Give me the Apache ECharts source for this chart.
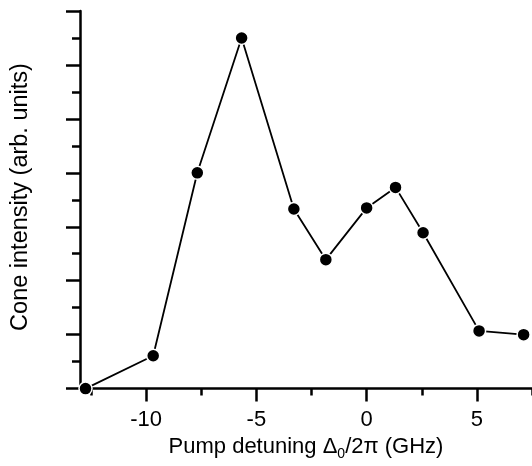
<!DOCTYPE html>
<html>
<head>
<meta charset="utf-8">
<script src="https://cdn.jsdelivr.net/npm/echarts@6/dist/echarts.min.js"></script>
<style>
  html, body { margin: 0; padding: 0; background: #fff; }
  #chart { width: 532px; height: 466px; }
</style>
</head>
<body>
<div id="chart"></div>
<script>
// Pump detuning (GHz) and measured cone intensity (arb. units)
var detuning = [-12.75, -9.68, -7.68, -5.67, -3.30, -1.85, 0.0, 1.31, 2.56, 5.10, 7.12];
var intensity = [0.0, 0.61, 4.0, 6.5, 3.33, 2.39, 3.35, 3.73, 2.89, 1.07, 1.0];

// Axis tick positions
var xMajorTicks = [-10, -5, 0, 5];
var xMinorTicks = [-12.5, -7.5, -2.5, 2.5, 7.5];

var FONT = 'Liberation Sans, Arial, sans-serif';
var chart = echarts.init(document.getElementById('chart'), null, { renderer: 'canvas' });

var points = detuning.map(function (x, i) { return [x, intensity[i]]; });

chart.setOption({
  animation: false,
  backgroundColor: '#ffffff',
  grid: { left: 80, right: 0, top: 11, bottom: 77, containLabel: false },
  xAxis: [
    {
      type: 'value',
      min: -13, max: 7.5,
      splitLine: { show: false },
      axisLine: { show: true, onZero: false, lineStyle: { color: '#000', width: 2.5 } },
      axisTick: { show: true, customValues: xMajorTicks, length: 13, lineStyle: { color: '#000', width: 2.5 } },
      axisLabel: { customValues: xMajorTicks, color: '#000', fontFamily: FONT, fontSize: 22, margin: 20 },
      name: '{a|Pump detuning Δ}{sub|0}{a|/2π (GHz)}',
      nameLocation: 'middle',
      nameGap: 41,
      nameTextStyle: {
        rich: {
          a: { color: '#000', fontFamily: FONT, fontSize: 22 },
          sub: { color: '#000', fontFamily: FONT, fontSize: 14, padding: [15, 0, 0, 0] }
        }
      }
    },
    {
      type: 'value',
      min: -13, max: 7.5,
      position: 'bottom',
      splitLine: { show: false },
      axisLine: { show: false },
      axisTick: { show: true, customValues: xMinorTicks, length: 7, lineStyle: { color: '#000', width: 2.5 } },
      axisLabel: { show: false }
    }
  ],
  yAxis: {
    type: 'value',
    min: 0, max: 7, interval: 1,
    splitLine: { show: false },
    axisLine: { show: true, onZero: false, lineStyle: { color: '#000', width: 2.5 } },
    axisTick: { show: true, length: 14, lineStyle: { color: '#000', width: 2.5 } },
    minorTick: { show: true, splitNumber: 2, length: 8, lineStyle: { color: '#000', width: 2.5 } },
    axisLabel: { show: false }
  },
  graphic: [
    {
      type: 'text',
      x: 21, y: 197,
      rotation: Math.PI / 2,
      style: {
        text: 'Cone intensity (arb. units)',
        fill: '#000',
        font: '23.5px ' + FONT,
        textAlign: 'center',
        textVerticalAlign: 'middle'
      }
    }
  ],
  series: [
    {
      type: 'line',
      data: points,
      clip: false,
      symbol: 'circle',
      symbolSize: 13,
      itemStyle: { color: '#000', borderColor: '#fff', borderWidth: 1.5 },
      lineStyle: { color: '#000', width: 1.8 }
    }
  ]
});
</script>
</body>
</html>
